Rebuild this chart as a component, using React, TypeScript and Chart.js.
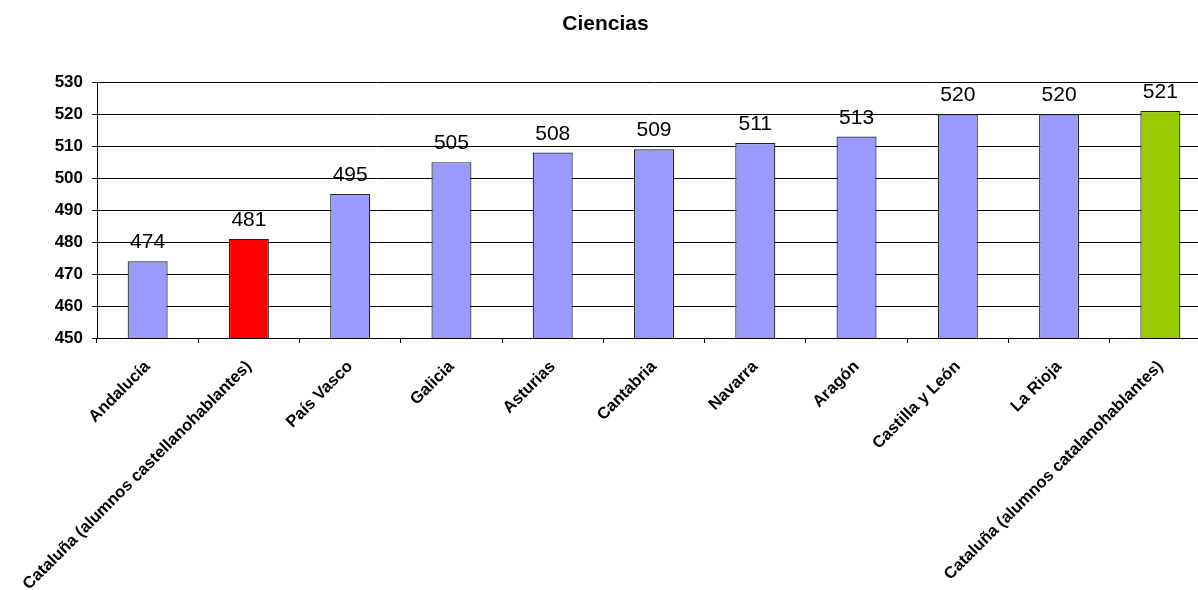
import React, { useEffect, useRef } from "react";
import { Chart, registerables } from "chart.js";

Chart.register(...registerables);

const categories: string[] = [
  "Andalucía",
  "Cataluña (alumnos castellanohablantes)",
  "País Vasco",
  "Galicia",
  "Asturias",
  "Cantabria",
  "Navarra",
  "Aragón",
  "Castilla y León",
  "La Rioja",
  "Cataluña (alumnos catalanohablantes)",
];
const scores: number[] = [474, 481, 495, 505, 508, 509, 511, 513, 520, 520, 521];
const barColors: string[] = [
  "#9999FF", "#FF0000", "#9999FF", "#9999FF", "#9999FF", "#9999FF",
  "#9999FF", "#9999FF", "#9999FF", "#9999FF", "#99CC00",
];
const yMin = 450;
const yMax = 530;
const yStep = 10;
const title = "Ciencias";

const FONT = "'Liberation Sans', Arial, sans-serif";

const valueLabels = {
  id: "valueLabels",
  afterDatasetsDraw(chart: any) {
    const ctx = chart.ctx;
    const meta = chart.getDatasetMeta(0);
    ctx.save();
    ctx.font = `21px ${FONT}`;
    ctx.fillStyle = "#000";
    ctx.textAlign = "center";
    ctx.textBaseline = "alphabetic";
    meta.data.forEach((el: any, i: number) => {
      ctx.fillText(String(scores[i]), el.x, el.y - 13);
    });
    ctx.restore();
  },
};

export default function App() {
  const ref = useRef<HTMLCanvasElement>(null);
  useEffect(() => {
    if (!ref.current) return;
    const chart = new Chart(ref.current, {
      type: "bar",
      data: {
        labels: categories,
        datasets: [
          {
            data: scores,
            backgroundColor: barColors,
            borderColor: "#222",
            borderWidth: 1.2,
            borderSkipped: false,
            categoryPercentage: 1,
            barPercentage: 0.395,
          },
        ],
      },
      options: {
        responsive: false,
        animation: false,
        layout: { padding: { left: 0, right: 3, top: 0, bottom: 0 } },
        plugins: {
          legend: { display: false },
          tooltip: { enabled: false },
          title: {
            display: true,
            text: title,
            color: "#000",
            font: { family: FONT, size: 21, weight: "bold" },
            padding: { top: 12, bottom: 45 },
          },
        },
        scales: {
          x: {
            offset: true,
            grid: {
              offset: true,
              drawOnChartArea: false,
              drawTicks: true,
              tickLength: 5,
              color: "#000",
            },
            border: { color: "#000", width: 1 },
            ticks: {
              autoSkip: false,
              minRotation: 45,
              maxRotation: 45,
              color: "#000",
              padding: 14,
              font: { family: FONT, size: 16.5, weight: "bold" },
            },
            afterFit: (s: any) => {
              s.height = 252;
            },
          },
          y: {
            min: yMin,
            max: yMax,
            grid: { color: "#000", tickLength: 5, drawTicks: true },
            border: { color: "#000", width: 1 },
            ticks: {
              stepSize: yStep,
              color: "#000",
              padding: 9,
              font: { family: FONT, size: 17, weight: "bold" },
            },
            afterFit: (s: any) => {
              s.width = 97;
            },
          },
        },
      },
      plugins: [valueLabels],
    });
    return () => chart.destroy();
  }, []);
  return (
    <div
      style={{
        position: "fixed",
        left: 0,
        top: 0,
        width: 1198,
        height: 590,
        overflow: "hidden",
        background: "#fff",
      }}
    >
      <canvas ref={ref} width={1214} height={590} style={{ display: "block" }} />
    </div>
  );
}
